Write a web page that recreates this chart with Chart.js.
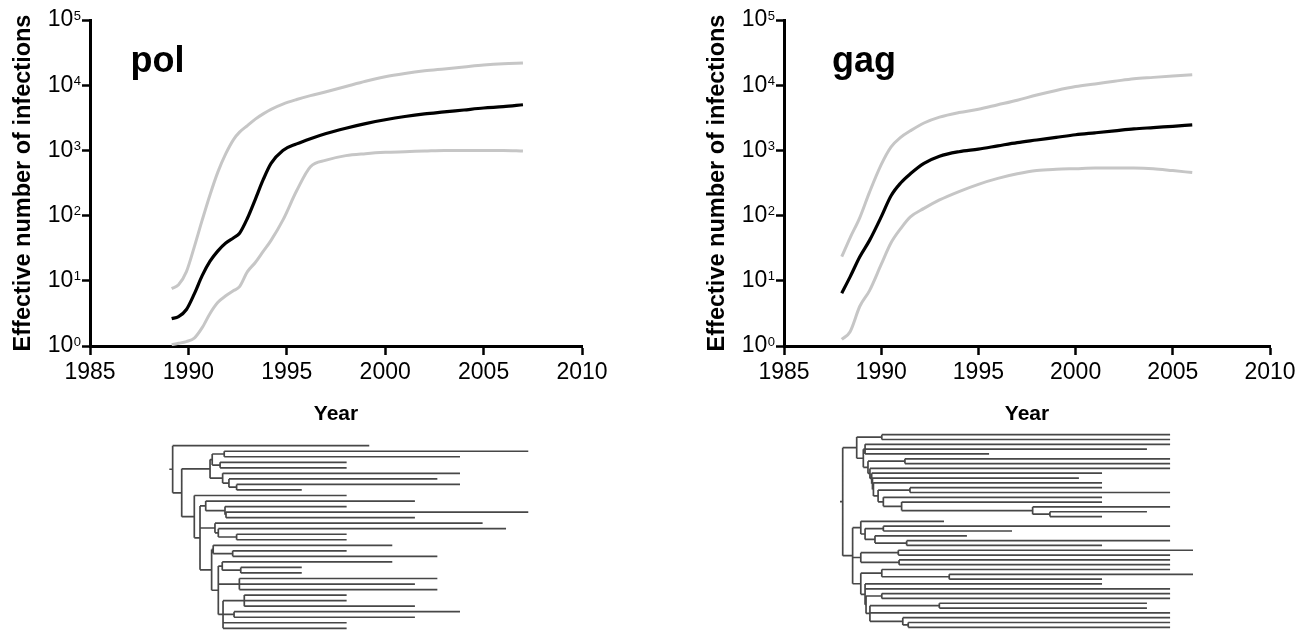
<!DOCTYPE html>
<html><head><meta charset="utf-8">
<script src="https://cdn.jsdelivr.net/npm/chart.js@4.4.0/dist/chart.umd.min.js"></script>
<style>
html,body{margin:0;padding:0;background:#fff;width:1303px;height:632px;overflow:hidden;position:relative}
canvas{position:absolute}
</style></head><body>
<canvas id="polMain" width="650" height="430" style="left:0;top:0"></canvas>
<canvas id="gagMain" width="609" height="430" style="left:694px;top:0"></canvas>
<canvas id="polTreeC" width="650" height="196" style="left:0;top:436px"></canvas>
<canvas id="gagTreeC" width="609" height="207" style="left:694px;top:425px"></canvas>
<script>
// ---------- data ----------
const polYears = [1989.15,1989.5,1989.9,1990.3,1990.7,1991.1,1991.5,1991.9,1992.3,1992.6,1993.0,1993.4,1993.8,1994.2,1994.8,1995.5,1996.2,1997.0,1998.0,1999.0,2000.0,2001.0,2002.0,2003.0,2004.0,2005.0,2006.0,2007.0];
const polMedian = [2.63,2.82,3.63,6.31,12.0,20.0,28.8,38.0,45.7,53.7,91.2,178,355,631,1000,1259,1514,1820,2188,2570,2951,3311,3631,3890,4169,4467,4677,5012];
const polUpper = [7.59,8.71,13.8,33.1,85.1,209,468,891,1479,1905,2399,3020,3631,4266,5129,6026,6918,7943,9550,11482,13490,15136,16596,17783,19055,20417,21380,21878];
const polLower = [1.05,1.10,1.17,1.32,1.91,3.16,4.68,5.89,7.08,8.13,13.8,19.1,28.2,41.7,85.1,240,562,708,832,891,933,955,977,1000,1000,1000,1000,977];

const gagYears = [1987.97,1988.4,1988.9,1989.4,1990.0,1990.5,1991.0,1991.5,1992.2,1993.0,1994.0,1995.0,1996.0,1997.0,1998.0,1999.0,2000.0,2001.0,2002.0,2003.0,2004.0,2005.0,2006.0];
const gagMedian = [6.46,11.5,23.4,41.7,95.5,200,316,437,631,813,955,1047,1175,1318,1445,1585,1738,1862,1995,2138,2239,2344,2455];
const gagUpper = [23.4,45.7,93.3,229,603,1122,1585,1995,2630,3236,3802,4266,5012,5888,7079,8318,9550,10471,11482,12589,13183,13804,14454];
const gagLower = [1.26,1.66,4.07,7.08,17.8,38.0,63.1,95.5,129,174,234,302,372,437,490,513,525,537,537,537,525,490,457];

const xTickYears = [1985,1990,1995,2000,2005,2010];
const yTickValues = [1,10,100,1000,10000,100000];
const panelNames = ['pol','gag'];
const panelLabelPos = [[1987.06,15849],[1987.47,15849]];

// trees: [nodeYear, children...]; a plain number is a tip (its end year)
const polRootStem = 1989.03;
const polTree = [1989.20,
  1999.19,
  [1989.66,
    [1991.10,
      [1991.21, [1991.82, 2007.27, 2003.80], [1991.61, 1998.04, 1998.04]],
      [1991.74, 2003.80, [1992.06, 2002.65, [1992.45, 2003.80, 1995.76]]]
    ],
    [1990.30,
      1998.04,
      [1990.59,
        [1990.88, 2001.51, [1991.86, 1998.04, [1991.91, 2007.27, 2001.51]]],
        [1991.35, 2004.95, [1991.52, 2006.14, [1992.45, 1998.04, 1998.04]]],
        [1991.18,
          [1991.26, 2000.36, [1992.25, 1998.04, 2002.65]],
          [1991.52,
            [1991.72, 2000.36, [1992.66, 1995.76, 1995.76]],
            [1992.59, 2002.65, 2001.51, 2002.65],
            [1991.76, [1992.84, 1998.04, 1998.04, 2001.51], [1992.32, 2003.80, 2001.51], 1998.04, 1998.04]
          ]
        ]
      ]
    ]
  ]
];

const gagRootStem = 1987.88;
const gagTree = [1988.02,
  [1988.74,
    [1990.03, 2004.86, 2004.86],
    [1989.08,
      [1989.17, 2004.86, 2003.67, 1995.55],
      [1989.32,
        [1991.22, 2004.86, 2004.86],
        [1989.42, 2004.86,
          [1989.51, 2001.36,
            [1989.55, 2000.17,
              [1989.60, 2001.36,
                [1989.84,
                  [1991.48, 2001.36, 2004.86],
                  [1990.11, 2001.36,
                    [1991.05, 2001.36,
                      [1997.79, 2004.86, [1998.68, 2003.67, 2001.36]]]]]]]]]]]],
  [1988.53,
    [1988.95, 1993.23,
      [1989.17, [1990.11, 2004.86, 1996.73],
        [1989.68, 1994.41, [1991.31, 2004.86, 2001.36]]]],
    [1988.95, [1990.88, 2006.04, 2004.86], [1990.92, 2004.86, 2004.86]],
    [1988.95,
      [1990.03, 2004.86, [1993.50, 2006.04, 2001.36]],
      [1989.17, 2001.36, 2004.86,
        [1989.22, [1990.03, 2004.86, 2004.86],
          [1989.42, [1992.99, 2003.67, 2003.67], 2004.86,
            [1991.11, 2004.86, [1991.39, 2004.86, 2004.86]]]]]]
  ]
];

// ---------- drawing ----------
const FONT = '"Liberation Sans", Arial, Helvetica, sans-serif';
const GRAY = '#c6c6c6';

const panelLabelPlugin = {
  id: 'panelLabel',
  afterDatasetsDraw(chart, args, opts) {
    const {ctx, scales: {x, y}} = chart;
    ctx.save();
    ctx.font = 'bold 36px ' + FONT;
    ctx.fillStyle = '#000';
    ctx.textBaseline = 'alphabetic';
    ctx.textAlign = 'left';
    ctx.fillText(opts.text, x.getPixelForValue(opts.x), y.getPixelForValue(opts.y));
    // y tick labels as 10 with raised exponent
    ctx.textAlign = 'right';
    ctx.textBaseline = 'middle';
    const xr = y.right - 8 - 1;
    yTickValues.forEach(v => {
      const py = y.getPixelForValue(v);
      const exp = String(Math.round(Math.log10(v)));
      ctx.font = '13px ' + FONT;
      const w = ctx.measureText(exp).width;
      ctx.fillText(exp, xr, py - 4);
      ctx.font = '23px ' + FONT;
      ctx.fillText('10', xr - w - 0.5, py);
    });
    ctx.restore();
  }
};

function mainChart(id, years, med, up, lo, idx, padRight) {
  const toPts = arr => years.map((x, i) => ({x, y: arr[i]}));
  const line = (arr, color, w) => ({data: toPts(arr), borderColor: color, borderWidth: w, showLine: true,
    pointRadius: 0, cubicInterpolationMode: 'monotone', fill: false, clip: false});
  const tickGrid = len => ({display: true, drawOnChartArea: false, drawTicks: true, tickLength: len, tickWidth: 2.5, tickColor: '#000'});
  const border = {display: true, color: '#000', width: 3};
  return new Chart(document.getElementById(id), {
    type: 'scatter',
    data: {datasets: [line(up, GRAY, 3), line(lo, GRAY, 3), line(med, '#000', 3.2)]},
    options: {
      responsive: false, animation: false, devicePixelRatio: 1, events: [],
      layout: {padding: {top: 20, right: padRight, bottom: 0, left: 0}},
      plugins: {legend: {display: false}, tooltip: {enabled: false},
        panelLabel: {text: panelNames[idx], x: panelLabelPos[idx][0], y: panelLabelPos[idx][1]}},
      scales: {
        x: {type: 'linear', min: 1985, max: 2010,
          afterBuildTicks: s => { s.ticks = xTickYears.map(v => ({value: v})); },
          ticks: {callback: v => String(v), color: '#000', font: {family: FONT, size: 23}, padding: 4, maxRotation: 0, autoSkip: false},
          grid: tickGrid(9), border,
          title: {display: true, text: 'Year', color: '#000', font: {family: FONT, size: 21, weight: 'bold'}, padding: {top: 0, bottom: 3}},
          afterFit: s => { s.height = 84; }
        },
        y: {type: 'logarithmic', min: 1, max: 100000,
          afterBuildTicks: s => { s.ticks = yTickValues.map(v => ({value: v})); },
          ticks: {display: false, autoSkip: false},
          grid: tickGrid(8), border,
          title: {display: true, text: 'Effective number of infections', color: '#000', font: {family: FONT, size: 23.5, weight: 'bold'}, padding: {top: 9, bottom: 0}},
          afterFit: s => { s.width = 90; }
        }
      }
    },
    plugins: [panelLabelPlugin]
  });
}

function treeSegments(tree, stemStart) {
  let tipIndex = 0;
  const pts = [];
  const gap = () => pts.push({x: null, y: null});
  function layout(node, parentX) {
    if (typeof node === 'number') {
      tipIndex++;
      pts.push({x: parentX, y: tipIndex}, {x: node, y: tipIndex}); gap();
      return tipIndex;
    }
    const [x, ...kids] = node;
    const ys = kids.map(k => layout(k, x));
    const y = (ys[0] + ys[ys.length - 1]) / 2;
    pts.push({x, y: ys[0]}, {x, y: ys[ys.length - 1]}); gap();
    pts.push({x: parentX, y}, {x, y}); gap();
    return y;
  }
  layout(tree, stemStart);
  return {pts, tips: tipIndex};
}

function treeChart(id, tree, stem, pad) {
  const seg = treeSegments(tree, stem);
  return new Chart(document.getElementById(id), {
    type: 'scatter',
    data: {datasets: [{data: seg.pts, showLine: true, spanGaps: false, borderColor: '#474747', borderWidth: 1.7,
      pointRadius: 0, tension: 0, clip: false}]},
    options: {
      responsive: false, animation: false, devicePixelRatio: 1, events: [],
      layout: {padding: pad},
      plugins: {legend: {display: false}, tooltip: {enabled: false}},
      scales: {
        x: {type: 'linear', min: 1985, max: 2010, display: false},
        y: {type: 'linear', min: 1, max: seg.tips, reverse: true, display: false}
      }
    }
  });
}

mainChart('polMain', polYears, polMedian, polUpper, polLower, 0, 68);
mainChart('gagMain', gagYears, gagMedian, gagUpper, gagLower, 1, 33);
treeChart('polTreeC', polTree, polRootStem, {left: 90, right: 68, top: 9.7, bottom: 3.7});
treeChart('gagTreeC', gagTree, gagRootStem, {left: 90, right: 33, top: 9.7, bottom: 4.7});
</script>
</body></html>
